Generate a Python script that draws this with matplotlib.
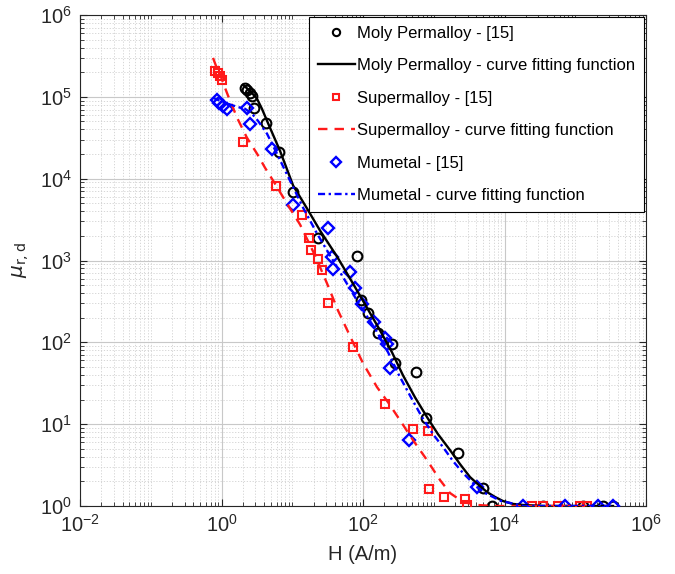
import matplotlib
matplotlib.use("Agg")
import matplotlib.pyplot as plt
from matplotlib.ticker import LogLocator, NullFormatter

plt.rcParams['font.family'] = ['Liberation Sans', 'DejaVu Sans']
plt.rcParams['mathtext.fontset'] = 'dejavusans'

# ---------------- data ----------------
moly_H = [2.15, 2.29, 2.53, 2.70, 2.88, 4.26, 6.50, 10.3, 23.1, 82.3, 93.7, 118,
          163, 257, 283, 561, 777, 2203, 4966, 6653, 35000, 128800, 246800, 342000]
moly_mu = [128800, 121700, 111900, 102800, 73400, 48200, 21340, 6930, 1905, 1150,
           325, 226, 129, 94.6, 55.5, 43.1, 11.8, 4.43, 1.66, 1.0, 1.0, 1.0, 1.0, 1.0]

moly_fit_H = [2.01, 2.53, 3.18, 3.73, 4.40, 5.35, 6.71, 10.3, 16.2, 24.7, 42.9, 65.5,
              107, 174, 257, 367, 543, 803, 1148, 1698, 2350, 3251, 4508, 5662,
              7341, 9528, 13190, 18240, 37300, 342000]
moly_fit_mu = [140000, 118300, 94600, 71400, 50900, 34400, 21930, 8220, 4310, 2321,
               1119, 603, 291, 140, 75.5, 39.6, 21.3, 12.2, 7.55, 4.82, 3.25, 2.26,
               1.75, 1.48, 1.29, 1.15, 1.06, 1.03, 1.0, 1.0]

super_H = [0.81, 0.89, 0.95, 1.02, 2.01, 5.89, 13.7, 17.3, 18.4, 23.1, 26.3, 32.0,
           72.3, 205, 509, 830, 857, 1396, 2767, 2951, 24490, 35000, 57000,
           116700, 146600]
super_mu = [207500, 196300, 180300, 161200, 28250, 8220, 3640, 1905, 1361, 1029,
            755, 299, 86.9, 17.5, 8.69, 8.22, 1.61, 1.29, 1.22, 1.03, 1.0, 1.0,
            1.0, 1.0, 1.0]

super_fit_H = [0.759, 0.836, 0.95, 1.08, 1.24, 1.66, 2.29, 3.18, 4.12, 5.70, 8.43,
               12.9, 21.0, 31.0, 44.3, 69.9, 100, 158, 226, 333, 509, 803, 1225,
               1698, 2590, 4085, 6874, 146600]
super_fit_mu = [299000, 238800, 190600, 140000, 102800, 55500, 31600, 20180, 13610,
                8690, 4950, 2747, 1150, 525, 245, 106, 55.5, 28.3, 18.5, 11.2,
                6.38, 3.64, 2.08, 1.44, 1.12, 1.03, 1.0, 1.0]

mu_H = [0.86, 0.92, 1.05, 1.20, 2.29, 2.53, 5.17, 10.3, 32.0, 36.5, 37.7, 65.5,
        77.1, 96.8, 143, 205, 218, 241, 447, 4085, 18240, 71600, 209900, 342000]
mu_mu = [91900, 84500, 77600, 71400, 73400, 46900, 23250, 4820, 2525, 1119, 798,
         714, 456, 291, 175, 112, 94.6, 48.2, 6.38, 1.71, 1.0, 1.0, 1.0, 1.0]

mu_fit_H = [0.759, 1.12, 1.66, 2.15, 2.70, 3.28, 4.40, 6.08, 9.29, 14.2, 22.4,
            34.2, 55.7, 90.7, 153, 226, 323, 476, 682, 976, 1352, 1871, 2590,
            3251, 4085, 5297, 6874, 8929, 11970, 18240, 342000]
mu_fit_mu = [97200, 84500, 75500, 71400, 62100, 50900, 35400, 20180, 9460, 4430,
             2134, 1150, 570, 282, 140, 75.5, 39.6, 21.3, 12.2, 7.55, 5.24, 3.54,
             2.53, 2.08, 1.71, 1.44, 1.29, 1.15, 1.09, 1.0, 1.0]

labels = ['Moly Permalloy - [15]', 'Moly Permalloy - curve fitting function',
          'Supermalloy - [15]', 'Supermalloy - curve fitting function',
          'Mumetal - [15]', 'Mumetal - curve fitting function']

# ---------------- figure ----------------
fig = plt.figure(figsize=(6.75, 5.74), dpi=100)
ax = fig.add_axes([80/675, 68/574, 566/675, 491/574])

mew = 1.5
ax.plot(moly_H, moly_mu, 'o', mfc='none', mec='black', ms=7, mew=mew, label=labels[0], zorder=3)
ax.plot(moly_fit_H, moly_fit_mu, '-', color='black', lw=1.7, label=labels[1], zorder=4)
ax.plot(super_H, super_mu, 's', mfc='none', mec='#ff1a1a', ms=6, mew=mew, label=labels[2], zorder=3)
ax.plot(super_fit_H, super_fit_mu, '--', color='#ff1a1a', lw=1.7, dashes=(4, 3), label=labels[3], zorder=4)
ax.plot(mu_H, mu_mu, 'D', mfc='none', mec='#0000ff', ms=6.5, mew=1.7, label=labels[4], zorder=3)
ax.plot(mu_fit_H, mu_fit_mu, '-.', color='#0000ff', lw=1.7, dashes=(3, 1.5, 1, 1.5), label=labels[5], zorder=4)

ax.set_xscale('log')
ax.set_yscale('log')
ax.set_xlim(1e-2, 1e6)
ax.set_ylim(1e0, 1e6)

ax.set_xticks([1e-2, 1e0, 1e2, 1e4, 1e6])
ax.xaxis.set_minor_locator(LogLocator(base=10, subs=range(1, 10), numticks=100))
ax.xaxis.set_minor_formatter(NullFormatter())
ax.set_yticks([1e0, 1e1, 1e2, 1e3, 1e4, 1e5, 1e6])
ax.yaxis.set_minor_locator(LogLocator(base=10, subs=range(2, 10), numticks=100))
ax.yaxis.set_minor_formatter(NullFormatter())

ax.grid(True, which='major', color='#c8c8c8', lw=0.8, ls='-')
ax.grid(True, which='minor', color='#d0d0d0', lw=0.6, ls=(0, (1.5, 2)))
ax.set_axisbelow(True)

ax.tick_params(which='both', direction='in', top=True, right=True, colors='#262626')
ax.tick_params(which='major', length=5, labelsize=14.5, pad=6)
ax.tick_params(which='minor', length=3)
for s in ax.spines.values():
    s.set_color('#262626')
    s.set_linewidth(0.8)

ax.set_xlabel('H (A/m)', fontsize=14.5, color='#262626', labelpad=6)
ax.set_ylabel(r'$\mu_{\rm r,d}$', fontsize=14.5, color='#262626', labelpad=6)

leg = ax.legend(loc='upper right', fontsize=12, frameon=True, fancybox=False,
                edgecolor='black', framealpha=1, borderaxespad=0.1,
                labelspacing=1.05, handlelength=2.2, handletextpad=0.15,
                borderpad=0.55, markerscale=0.75)
leg.get_frame().set_linewidth(0.8)

fig.savefig('out.png', dpi=100)
